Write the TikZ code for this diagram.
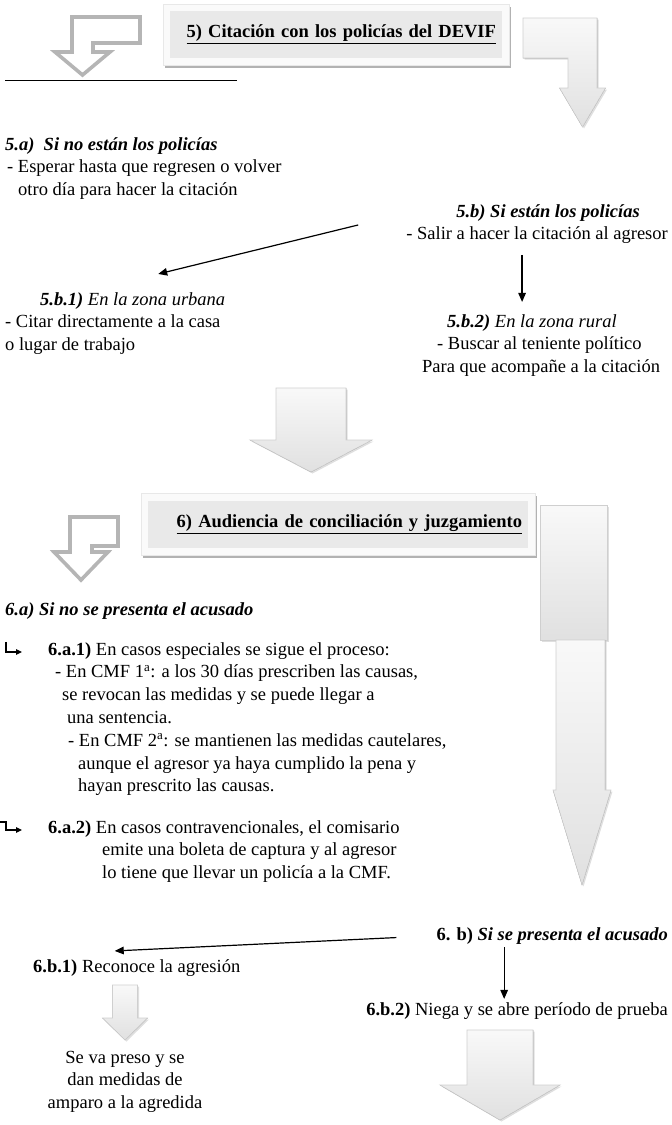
\documentclass[tikz,border=0pt]{standalone}
\usepackage{fontspec}
\setmainfont{Liberation Serif}
\usepackage{tikz}
\usetikzlibrary{
    positioning,
    fit,
    calc,
    arrows.meta,
    shadows,
    backgrounds
}
\tikzset{
    txt/.style={
        anchor=base west, inner sep=0pt, align=left,
        font=\fontsize{18.5}{22.8}\selectfont
    },
    txtr/.style={
        txt, anchor=base east, align=right
    },
    txtc/.style={
        txt, anchor=base, align=center
    },
    titlebox/.style={
        rectangle, fill=gray!17, inner xsep=6pt, inner ysep=0pt,
        align=right, font=\fontsize{18.5}{22}\selectfont\bfseries
    },
    titleframe/.style={
        rectangle, fill=gray!4, draw=gray!18, inner sep=7pt,
        drop shadow={shadow xshift=2pt, shadow yshift=-3pt, fill=gray!60, opacity=1}
    },
    hollow/.style={
        draw=gray!58, line width=3.6pt, fill=white, line join=miter
    },
    blockarrow/.style={
        top color=gray!5, bottom color=gray!24, draw=gray!38, line width=0.6pt,
        drop shadow={shadow xshift=1.5pt, shadow yshift=-1.5pt, opacity=0.25}
    },
    arrow/.style={
        -{Triangle[length=9pt, width=7.5pt]}, line width=1.2pt, draw=black
    },
    hookarrow/.style={
        -{Triangle[length=6pt, width=5.5pt]}, line width=1.1pt, draw=black
    }
}
% block arrow pointing down: x, top, shaft half width, head half width, head top, tip
\newcommand{\blockdown}[6]{%
    \fill[blockarrow] (#1-#3,#2) -- (#1+#3,#2) -- (#1+#3,#5) -- (#1+#4,#5)
        -- (#1,#6) -- (#1-#4,#5) -- (#1-#3,#5) -- cycle;}

\begin{document}
\begin{tikzpicture}[x=1pt, y=-1pt]
    \useasboundingbox (0,0) rectangle (672,1125);

    % --- STEP 5: TITLE ---
    \node[titlebox, text width=320pt, minimum height=47pt] (title5) at (336,34.5)
        {\underline{5) Citación con los policías del DEVIF}};
    \draw[hollow] (72,17) -- (140,17) -- (140,43) -- (93,43) -- (93,52) -- (110,52)
        -- (82.5,75) -- (55,52) -- (72,52) -- cycle;
    \draw[line width=1pt] (5,80) -- (237,80);
    \fill[blockarrow] (523,18) -- (597,18) -- (597,88) -- (605.5,88) -- (582.5,127)
        -- (559.5,88) -- (568,88) -- (568,58) -- (523,58) -- cycle;

    % --- STEP 5: CASES (multi-line nodes sit on their last baseline) ---
    \node[txt] (case5a) at (5,195.6) {\textbf{\textit{5.a)\ \ Si no están los policías}}\\
        \hspace*{2pt}- Esperar hasta que regresen o volver\\
        \hspace*{13pt}otro día para hacer la citación};
    \node[txtr] (case5b) at (668,239.8) {\textbf{\textit{5.b) Si están los policías}}\hspace*{28pt}\\
        - Salir a hacer la citación al agresor};
    \node[txt] (urban) at (5,350.6) {\hspace*{35pt}\textbf{\textit{5.b.1)}} \textit{En la zona urbana}\\
        - Citar directamente a la casa\\
        o lugar de trabajo};
    \node[txt] (rural) at (422,372.6) {\hspace*{25pt}\textbf{\textit{5.b.2)}} \textit{En la zona rural}\\
        \hspace*{15pt}- Buscar al teniente político\\
        Para que acompañe a la citación};

    \coordinate (split5b) at ($(case5b.south)+(-15,11)$);
    \draw[arrow] ([xshift=-48pt, yshift=-1pt]case5b.west) -- ([xshift=43pt, yshift=18pt]urban.north);
    \draw[arrow, shorten >=12pt] (split5b) -- (split5b |- rural.north);

    \blockdown{311}{388}{35}{61}{440}{472}

    % --- STEP 6: TITLE ---
    \node[titlebox, text width=368pt, minimum height=47pt] (title6) at (338,524)
        {\underline{6) Audiencia de conciliación y juzgamiento}};
    \draw[hollow] (70,517) -- (118,517) -- (118,546) -- (92,546) -- (92,552) -- (108,552)
        -- (81,580) -- (54,552) -- (70,552) -- cycle;
    \fill[blockarrow] (540,505) rectangle (607,640);
    \fill[blockarrow] (556,640) -- (605,640) -- (605,790) -- (611,790) -- (582,885)
        -- (553,790) -- (556,790) -- cycle;

    % --- STEP 6: DEFENDANT ABSENT ---
    \node[txt] (case6a) at (5,615) {\textbf{\textit{6.a) Si no se presenta el acusado}}};
    \node[txt] (special) at (48,791.8) {\textbf{6.a.1)} En casos especiales se sigue el proceso:\\
        \hspace*{7pt}- En CMF 1\textsuperscript{a}: a los 30 días prescriben las causas,\\
        \hspace*{14pt}se revocan las medidas y se puede llegar a\\
        \hspace*{19pt}una sentencia.\\
        \hspace*{20pt}- En CMF 2\textsuperscript{a}: se mantienen las medidas cautelares,\\
        \hspace*{30pt}aunque el agresor ya haya cumplido la pena y\\
        \hspace*{30pt}hayan prescrito las causas.};
    \node[txt] (contra) at (48,878.6) {\textbf{6.a.2)} En casos contravencionales, el comisario\\
        \hspace*{54pt}emite una boleta de captura y al agresor\\
        \hspace*{54pt}lo tiene que llevar un policía a la CMF.};

    \coordinate (hook1) at ($(special.north west)+(-42,0)$);
    \coordinate (hook2) at ($(contra.north west)+(-48,2)$);
    \draw[hookarrow] (hook1) |- ([xshift=-26pt, yshift=-10pt]special.north west);
    \draw[hookarrow] (hook2) -- ++(6,0) |- ([xshift=-26pt, yshift=-10pt]contra.north west);

    % --- STEP 6: DEFENDANT PRESENT ---
    \node[txtr] (case6b) at (668,940) {\textbf{6. b)} \textbf{\textit{Si se presenta el acusado}}};
    \node[txt] (admit) at (33,972) {\textbf{6.b.1)} Reconoce la agresión};
    \node[txtr] (deny) at (668,1015) {\textbf{6.b.2)} Niega y se abre período de prueba};
    \node[txtc] (prison) at (125,1108.6) {Se va preso y se\\ dan medidas de\\ amparo a la agredida};

    \coordinate (split6b) at ($(case6b.south)+(-48,3)$);
    \draw[arrow] ([xshift=-40pt, yshift=-2pt]case6b.west) -- ([xshift=-22pt, yshift=8pt]admit.north);
    \draw[arrow, shorten >=3pt] (split6b) -- (split6b |- deny.north);

    \blockdown{125}{985}{12.5}{22.5}{1018}{1040}
    \blockdown{500}{1030}{33}{60}{1085}{1120}

    % --- FRAMES ---
    \begin{scope}[on background layer]
        \node[titleframe, fit=(title5)] {};
        \node[titleframe, fit=(title6)] {};
    \end{scope}

\end{tikzpicture}
\end{document}
